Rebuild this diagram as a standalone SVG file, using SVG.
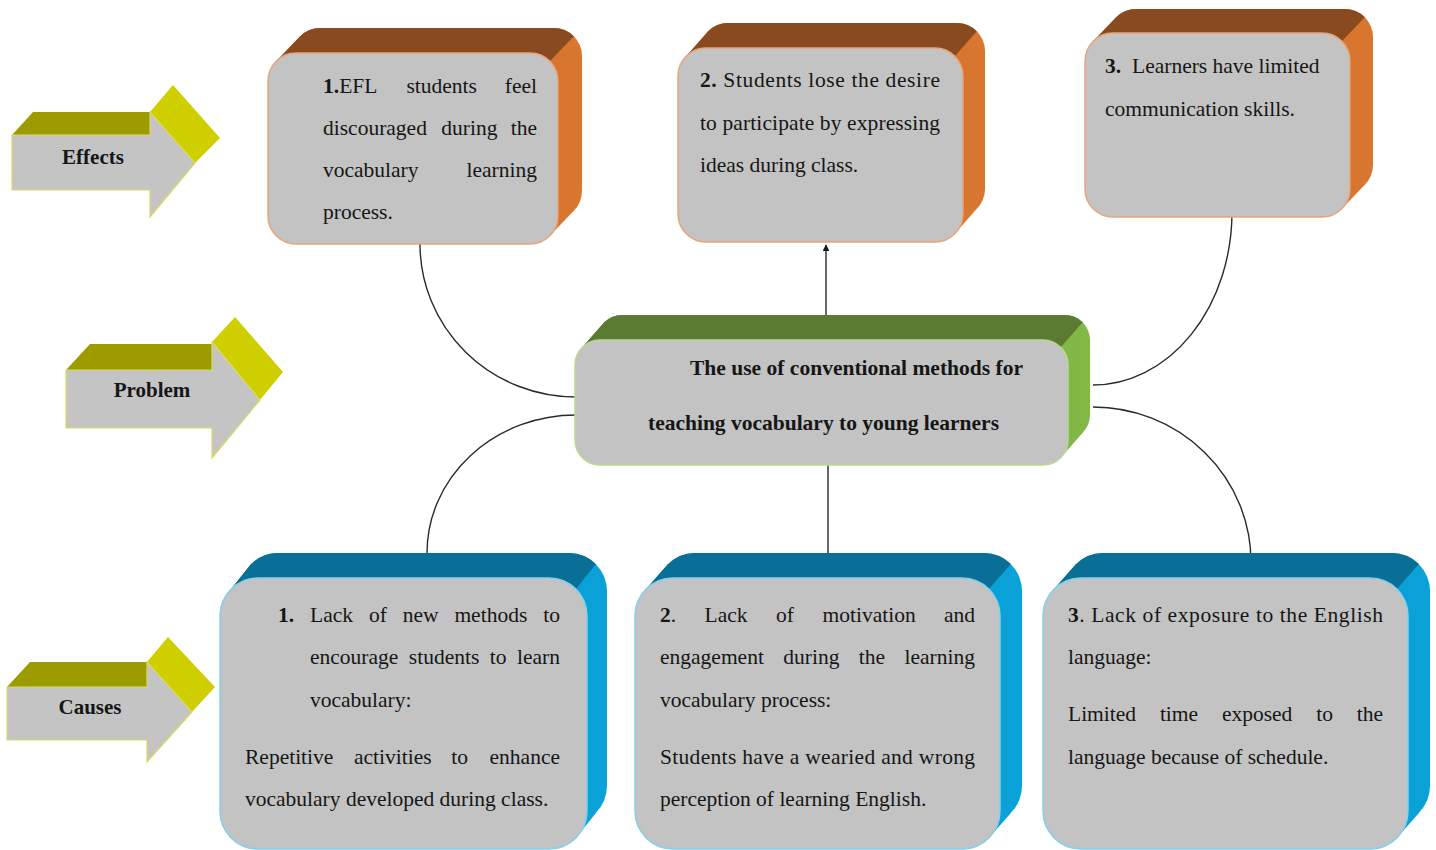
<svg xmlns="http://www.w3.org/2000/svg" width="1436" height="850" viewBox="0 0 1436 850">
<defs>
<style>
.t{font-family:"Liberation Serif","Times New Roman",serif;font-size:21.5px;fill:#161616}
.b{font-weight:bold}
.e{text-anchor:end}
.lbl{font-family:"Liberation Serif","Times New Roman",serif;font-size:21px;font-weight:bold;fill:#161616;text-anchor:middle}
.conn{fill:none;stroke:#2a2a2a;stroke-width:1.4}
.front{fill:#c3c3c3;stroke-width:1.5}
.o-top{fill:#8a4a1f}.o-side{fill:url(#oside)}.o-front{stroke:#e8a57c}
.g-top{fill:#5a7b31}.g-side{fill:url(#gside)}.g-front{stroke:#b9da94}
.b-top{fill:#0a6f96}.b-side{fill:url(#bside)}.b-front{stroke:#86cfe9}
.a-top{fill:#9c9c00}.a-head{fill:#cfcf00}.a-front{fill:#c4c4c4;stroke:#dada60;stroke-width:1.2}
</style>
<linearGradient id="oside" x1="0" y1="0" x2="1" y2="0"><stop offset="0" stop-color="#c1632a"/><stop offset="1" stop-color="#d9772f"/></linearGradient>
<linearGradient id="gside" x1="0" y1="0" x2="1" y2="0"><stop offset="0" stop-color="#6e9f3a"/><stop offset="1" stop-color="#82b946"/></linearGradient>
<linearGradient id="bside" x1="0" y1="0" x2="1" y2="0"><stop offset="0" stop-color="#0a8dbf"/><stop offset="1" stop-color="#0aa2d8"/></linearGradient>
<marker id="arr" viewBox="0 0 10 10" refX="9" refY="5" markerWidth="7" markerHeight="7" orient="auto" markerUnits="userSpaceOnUse"><path d="M0,0 L10,5 L0,10 Z" fill="#1a1a1a"/></marker>
</defs>
<rect width="1436" height="850" fill="#ffffff"/>

<g id="connectors">
<path class="conn" d="M420,244 A156,153 0 0 0 576,397"/>
<path class="conn" d="M826,315 L826,245" marker-end="url(#arr)"/>
<path class="conn" d="M1232,212 A139,173 0 0 1 1093,385"/>
<path class="conn" d="M576,415 A149,138 0 0 0 427,553"/>
<path class="conn" d="M828,465 L828,555"/>
<path class="conn" d="M1093,407 A158,155 0 0 1 1251,562"/>
</g>

<g id="label-effects">
<polygon class="a-top" points="12,135 33,112 150,112 150,135"/>
<polygon class="a-head" points="150,112 173,85 220,138 195,163"/>
<polygon class="a-front" points="12,135 150,135 150,112 195,163 150,217 150,190 12,190"/>
<text class="lbl" x="93" y="164">Effects</text>
</g>
<g id="label-problem">
<polygon class="a-top" points="66,370 90,344 212,344 212,370"/>
<polygon class="a-head" points="212,342 235,317 283,372 260,400"/>
<polygon class="a-front" points="66,370 212,370 212,342 260,400 212,458 212,428 66,428"/>
<text class="lbl" x="152" y="397">Problem</text>
</g>
<g id="label-causes">
<polygon class="a-top" points="7,687 30,662 147,662 147,687"/>
<polygon class="a-head" points="147,662 168,637 215,687 192,712"/>
<polygon class="a-front" points="7,687 147,687 147,662 192,712 147,762 147,740 7,740"/>
<text class="lbl" x="90" y="714">Causes</text>
</g>

<g id="effect-1">
<rect class="o-side" x="292" y="28" width="290" height="191" rx="28"/>
<polygon class="o-side" points="276.2,61.2 300.2,36.2 573.8,210.8 549.8,235.8"/>
<path class="o-top" d="M300.2,36.2 A28,28 0 0 1 320,28 L554,28 A28,28 0 0 1 573.8,36.2 L549.8,61.2 L276.2,61.2 Z"/>
<rect class="front o-front" x="268" y="53" width="290" height="191" rx="28"/>
<text class="t" y="93"><tspan x="323"><tspan class="b">1.</tspan>EFL</tspan><tspan x="406.4">students</tspan><tspan x="537" class="e">feel</tspan></text>
<text class="t" y="135"><tspan x="323">discouraged</tspan><tspan x="441.3">during</tspan><tspan x="537" class="e">the</tspan></text>
<text class="t" y="177"><tspan x="323">vocabulary</tspan><tspan x="537" class="e">learning</tspan></text>
<text class="t" x="323" y="219">process.</text>
</g>

<g id="effect-2">
<rect class="o-side" x="700" y="23" width="285" height="194" rx="28"/>
<polygon class="o-side" points="686.2,56.2 708.2,31.2 976.8,208.8 954.8,233.8"/>
<path class="o-top" d="M708.2,31.2 A28,28 0 0 1 728,23 L957,23 A28,28 0 0 1 976.8,31.2 L954.8,56.2 L686.2,56.2 Z"/>
<rect class="front o-front" x="678" y="48" width="285" height="194" rx="28"/>
<text class="t" x="700" y="87" textLength="240" lengthAdjust="spacing"><tspan class="b">2.</tspan> Students lose the desire</text>
<text class="t" x="700" y="130" textLength="240" lengthAdjust="spacing">to participate by expressing</text>
<text class="t" x="700" y="172">ideas during class.</text>
</g>

<g id="effect-3">
<rect class="o-side" x="1108" y="9" width="265" height="184" rx="28"/>
<polygon class="o-side" points="1093.2,41.2 1116.2,17.2 1364.8,184.8 1341.8,208.8"/>
<path class="o-top" d="M1116.2,17.2 A28,28 0 0 1 1136,9 L1345,9 A28,28 0 0 1 1364.8,17.2 L1341.8,41.2 L1093.2,41.2 Z"/>
<rect class="front o-front" x="1085" y="33" width="265" height="184" rx="28"/>
<text class="t" y="73"><tspan x="1105" class="b">3.</tspan><tspan x="1132">Learners have limited</tspan></text>
<text class="t" x="1105" y="116">communication skills.</text>
</g>

<g id="problem">
<rect class="g-side" x="597" y="315" width="493" height="125" rx="25"/>
<polygon class="g-side" points="582.3,347.3 604.3,322.3 1082.7,432.7 1060.7,457.7"/>
<path class="g-top" d="M604.3,322.3 A25,25 0 0 1 622,315 L1065,315 A25,25 0 0 1 1082.7,322.3 L1060.7,347.3 L582.3,347.3 Z"/>
<rect class="front g-front" x="575" y="340" width="493" height="125" rx="25"/>
<text class="t b" x="690" y="375" font-size="21" textLength="333" lengthAdjust="spacingAndGlyphs">The use of conventional methods for</text>
<text class="t b" x="648" y="430" font-size="21" textLength="351" lengthAdjust="spacingAndGlyphs">teaching vocabulary to young learners</text>
</g>

<g id="cause-1">
<rect class="b-side" x="240" y="553" width="367" height="271" rx="38"/>
<polygon class="b-side" points="231.1,589.1 251.1,564.1 595.9,812.9 575.9,837.9"/>
<path class="b-top" d="M251.1,564.1 A38,38 0 0 1 278,553 L569,553 A38,38 0 0 1 595.9,564.1 L575.9,589.1 L231.1,589.1 Z"/>
<rect class="front b-front" x="220" y="578" width="367" height="271" rx="38"/>
<text class="t" y="622"><tspan x="278" class="b">1.</tspan><tspan x="310">Lack</tspan><tspan x="368.9">of</tspan><tspan x="402.7">new</tspan><tspan x="454.4">methods</tspan><tspan x="560" class="e">to</tspan></text>
<text class="t" y="664"><tspan x="310">encourage</tspan><tspan x="408.8">students</tspan><tspan x="489.8">to</tspan><tspan x="560" class="e">learn</tspan></text>
<text class="t" x="310" y="707">vocabulary:</text>
<text class="t" y="764"><tspan x="245">Repetitive</tspan><tspan x="354">activities</tspan><tspan x="451.3">to</tspan><tspan x="560" class="e">enhance</tspan></text>
<text class="t" x="245" y="806">vocabulary developed during class.</text>
</g>

<g id="cause-2">
<rect class="b-side" x="657" y="553" width="365" height="271" rx="38"/>
<polygon class="b-side" points="646.1,589.1 668.1,564.1 1010.9,812.9 988.9,837.9"/>
<path class="b-top" d="M668.1,564.1 A38,38 0 0 1 695,553 L984,553 A38,38 0 0 1 1010.9,564.1 L988.9,589.1 L646.1,589.1 Z"/>
<rect class="front b-front" x="635" y="578" width="365" height="271" rx="38"/>
<text class="t" y="622"><tspan x="660"><tspan class="b">2</tspan>.</tspan><tspan x="704.6">Lack</tspan><tspan x="776.1">of</tspan><tspan x="822.5">motivation</tspan><tspan x="975" class="e">and</tspan></text>
<text class="t" y="664"><tspan x="660">engagement</tspan><tspan x="783.3">during</tspan><tspan x="858.8">the</tspan><tspan x="975" class="e">learning</tspan></text>
<text class="t" x="660" y="707">vocabulary process:</text>
<text class="t" x="660" y="764" textLength="315" lengthAdjust="spacing">Students have a wearied and wrong</text>
<text class="t" x="660" y="806">perception of learning English.</text>
</g>

<g id="cause-3">
<rect class="b-side" x="1065" y="553" width="365" height="271" rx="38"/>
<polygon class="b-side" points="1054.1,589.1 1076.1,564.1 1418.9,812.9 1396.9,837.9"/>
<path class="b-top" d="M1076.1,564.1 A38,38 0 0 1 1103,553 L1392,553 A38,38 0 0 1 1418.9,564.1 L1396.9,589.1 L1054.1,589.1 Z"/>
<rect class="front b-front" x="1043" y="578" width="365" height="271" rx="38"/>
<text class="t" x="1068" y="622" textLength="315" lengthAdjust="spacing"><tspan class="b">3</tspan>. Lack of exposure to the English</text>
<text class="t" x="1068" y="664">language:</text>
<text class="t" y="721"><tspan x="1068">Limited</tspan><tspan x="1159.9">time</tspan><tspan x="1221.9">exposed</tspan><tspan x="1316.2">to</tspan><tspan x="1383" class="e">the</tspan></text>
<text class="t" x="1068" y="764">language because of schedule.</text>
</g>
</svg>
